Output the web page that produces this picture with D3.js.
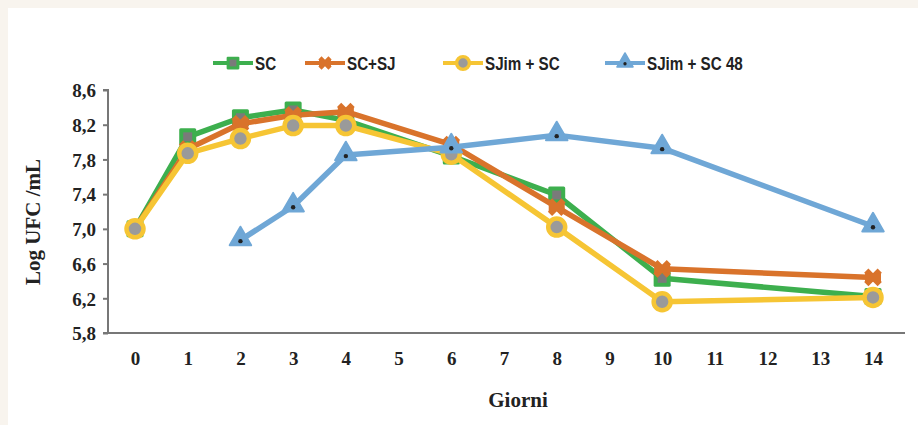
<!DOCTYPE html>
<html><head><meta charset="utf-8">
<script src="https://cdn.jsdelivr.net/npm/d3@7/dist/d3.min.js"></script>
<style>
html,body{margin:0;padding:0;background:#f8f4ee;}
svg{display:block;}
</style></head>
<body>
<script>
const days = [0,1,2,3,4,5,6,7,8,9,10,11,12,13,14];
const yTicks = [5.8,6.2,6.6,7.0,7.4,7.8,8.2,8.6];
const seriesNames = ["SC","SC+SJ","SJim + SC","SJim + SC 48"];
const scX = [0,1,2,3,4,6,8,10,14];
const scY = [7.0,8.06,8.28,8.37,8.25,7.84,7.39,6.43,6.22];
const scsjX = [0,1,2,3,4,6,8,10,14];
const scsjY = [7.0,7.92,8.21,8.31,8.35,7.97,7.25,6.54,6.44];
const sjimX = [0,1,2,3,4,6,8,10,14];
const sjimY = [7.0,7.87,8.04,8.19,8.19,7.86,7.02,6.16,6.21];
const sj48X = [2,3,4,6,8,10,14];
const sj48Y = [6.87,7.26,7.85,7.94,8.08,7.93,7.03];
const colors = ["#3daf4e","#d9732b","#f6c534","#6fa7d6"];

const W=918,H=425;
const serif="'Liberation Serif','Times New Roman',serif";
const svg=d3.select("body").append("svg").attr("width",W).attr("height",H);
svg.append("rect").attr("x",8).attr("y",8).attr("width",W-8).attr("height",H-8).attr("fill","#fff");

const x=d3.scaleLinear().domain([0,14]).range([135,873]);
const y=d3.scaleLinear().domain([5.8,8.6]).range([333,90]);

// axes
const yAxis=d3.axisLeft(y).tickValues(yTicks).tickSize(5).tickFormat(d=>d3.format(".1f")(d).replace(".",","));
const gy=svg.append("g").attr("transform","translate(108,0)").call(yAxis);
gy.select(".domain").attr("stroke","#777").attr("stroke-width",2).attr("d","M-5,"+y(8.6)+"H0V"+y(5.8));
gy.selectAll(".tick line").attr("stroke","#777").attr("stroke-width",2);
gy.selectAll(".tick text").attr("x",-12).attr("dy","0.36em").attr("font-family",serif).attr("font-weight","bold").attr("font-size",19).attr("fill","#222");

svg.append("line").attr("x1",103).attr("x2",905).attr("y1",333).attr("y2",333).attr("stroke","#777").attr("stroke-width",2);
const xAxis=d3.axisBottom(x).tickValues(days).tickSize(0).tickFormat(d=>d);
const gx=svg.append("g").attr("transform","translate(0,333)").call(xAxis);
gx.select(".domain").remove();
gx.selectAll(".tick text").attr("y",19).attr("dy","0.71em").attr("font-family",serif).attr("font-weight","bold").attr("font-size",19).attr("fill","#222");

svg.append("text").attr("x",518).attr("y",407).attr("text-anchor","middle").attr("font-family",serif).attr("font-weight","bold").attr("font-size",21).attr("fill","#222").text("Giorni");
svg.append("text").attr("transform","translate(40,222) rotate(-90)").attr("text-anchor","middle").attr("font-family",serif).attr("font-weight","bold").attr("font-size",21).attr("fill","#222").text("Log UFC /mL");

const line=d3.line().x(d=>x(d[0])).y(d=>y(d[1]));
const data=[d3.zip(scX,scY),d3.zip(scsjX,scsjY),d3.zip(sjimX,sjimY),d3.zip(sj48X,sj48Y)];

function marker(g,i){
  if(i===0){
    g.append("rect").attr("x",-8.5).attr("y",-8.5).attr("width",17).attr("height",17).attr("rx",1.5).attr("fill",colors[0]);
    g.append("rect").attr("x",-4.5).attr("y",-4.5).attr("width",9).attr("height",9).attr("fill","#7a7a7a");
  } else if(i===1){
    g.append("path").attr("d",d3.symbol(d3.symbolX,120)()).attr("stroke",colors[1]).attr("stroke-width",6).attr("fill","none");
    g.append("rect").attr("x",-8).attr("y",-4).attr("width",16).attr("height",8).attr("fill",colors[1]);
  } else if(i===2){
    g.append("circle").attr("r",8.5).attr("fill","#9a9a9a").attr("stroke",colors[2]).attr("stroke-width",4.5);
  } else {
    g.append("path").attr("d",d3.symbol(d3.symbolTriangle,200)()).attr("transform","translate(0,-1)").attr("fill",colors[3]).attr("stroke",colors[3]).attr("stroke-width",2).attr("stroke-linejoin","round");
    g.append("circle").attr("r",2.2).attr("cy",1).attr("fill","#222");
  }
}

data.forEach((pts,i)=>{
  const g=svg.append("g");
  g.append("path").datum(pts).attr("d",line).attr("fill","none").attr("stroke",colors[i]).attr("stroke-width",5.5).attr("stroke-linejoin","round");
  pts.forEach(p=>{
    const m=g.append("g").attr("transform",`translate(${x(p[0])},${y(p[1])})`);
    marker(m,i);
  });
});

// legend
const legX=[213,305,443,605];
seriesNames.forEach((n,i)=>{
  const g=svg.append("g").attr("transform",`translate(${legX[i]},63)`);
  g.append("line").attr("x1",0).attr("x2",40).attr("stroke",colors[i]).attr("stroke-width",4);
  const m=g.append("g").attr("transform","translate(20,0) scale(0.75)");
  marker(m,i);
  g.append("text").attr("transform","translate(42,7) scale(0.8,1)").attr("font-family","'Liberation Sans','Arial',sans-serif").attr("font-weight","bold").attr("font-size",19).attr("fill","#222").text(n);
});
</script>
</body></html>
